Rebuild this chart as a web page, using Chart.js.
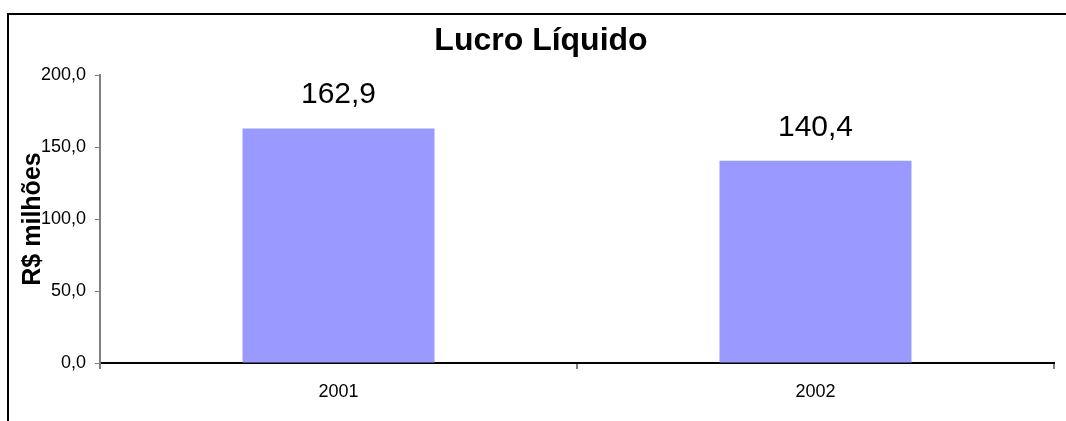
<!DOCTYPE html>
<html>
<head>
<meta charset="utf-8">
<script src="https://cdn.jsdelivr.net/npm/chart.js@4/dist/chart.umd.min.js"></script>
<style>
  body { margin: 0; background: #fff; }
  canvas { display: block; }
</style>
</head>
<body>
<canvas id="chart" width="1066" height="421"></canvas>
<script>
const categories = ['2001', '2002'];
const lucroLiquido = [162.9, 140.4];
const yTicks = [0, 50, 100, 150, 200];

const fmt = v => v.toFixed(1).replace('.', ',');

// values above the bars
const barLabels = {
    id: 'barLabels',
    afterDatasetsDraw(chart) {
        const ctx = chart.ctx;
        const meta = chart.getDatasetMeta(0);
        ctx.save();
        ctx.font = '30px Arial, "Liberation Sans", sans-serif';
        ctx.fillStyle = '#000';
        ctx.textAlign = 'center';
        ctx.textBaseline = 'alphabetic';
        meta.data.forEach((bar, i) => {
            ctx.fillText(fmt(chart.data.datasets[0].data[i]), bar.x, bar.y - 25);
        });
        ctx.restore();
    }
};

// frame (top and left edges only)
const frame = {
    id: 'frame',
    afterDraw(chart) {
        const ctx = chart.ctx;
        ctx.save();
        ctx.strokeStyle = '#000';
        ctx.lineWidth = 2;
        ctx.beginPath();
        ctx.moveTo(8, chart.height);
        ctx.lineTo(8, 14);
        ctx.lineTo(chart.width, 14);
        ctx.stroke();
        ctx.restore();
    }
};

new Chart(document.getElementById('chart'), {
    type: 'bar',
    data: {
        labels: categories,
        datasets: [{
            label: 'Lucro Líquido',
            data: lucroLiquido,
            backgroundColor: '#9999FF',
            borderWidth: 0,
            categoryPercentage: 1,
            barPercentage: 0.4025,
        }]
    },
    options: {
        responsive: false,
        animation: false,
        devicePixelRatio: 1,
        layout: {
            padding: { left: 28, right: 12, top: 0, bottom: 0 }
        },
        scales: {
            x: {
                afterFit: s => { s.height = 58; },
                border: { color: '#000', width: 2 },
                grid: {
                    offset: true,
                    drawOnChartArea: false,
                    drawTicks: true,
                    tickLength: 6,
                    color: '#808080',
                    lineWidth: 2,
                },
                ticks: {
                    color: '#000',
                    padding: 12,
                    font: { family: 'Arial, "Liberation Sans", sans-serif', size: 18 },
                },
            },
            y: {
                min: 0,
                max: 200,
                afterFit: s => { s.width = 72; },
                afterBuildTicks: s => { s.ticks = yTicks.map(v => ({ value: v })); },
                border: { color: '#808080', width: 2 },
                grid: {
                    drawOnChartArea: false,
                    drawTicks: true,
                    tickLength: 5,
                    color: '#808080',
                },
                ticks: {
                    color: '#000',
                    padding: 9,
                    font: { family: 'Arial, "Liberation Sans", sans-serif', size: 18 },
                    callback: v => fmt(v),
                },
                title: {
                    display: true,
                    text: 'R$ milhões',
                    color: '#000',
                    padding: { top: -10, bottom: 0 },
                    font: { family: 'Arial, "Liberation Sans", sans-serif', size: 25, weight: 'bold' },
                },
            },
        },
        plugins: {
            legend: { display: false },
            tooltip: { enabled: false },
            title: {
                display: true,
                text: 'Lucro Líquido',
                color: '#000',
                padding: { top: 22, bottom: 14.6 },
                font: { family: 'Arial, "Liberation Sans", sans-serif', size: 32, weight: 'bold' },
            },
        },
    },
    plugins: [barLabels, frame],
});
</script>
</body>
</html>
